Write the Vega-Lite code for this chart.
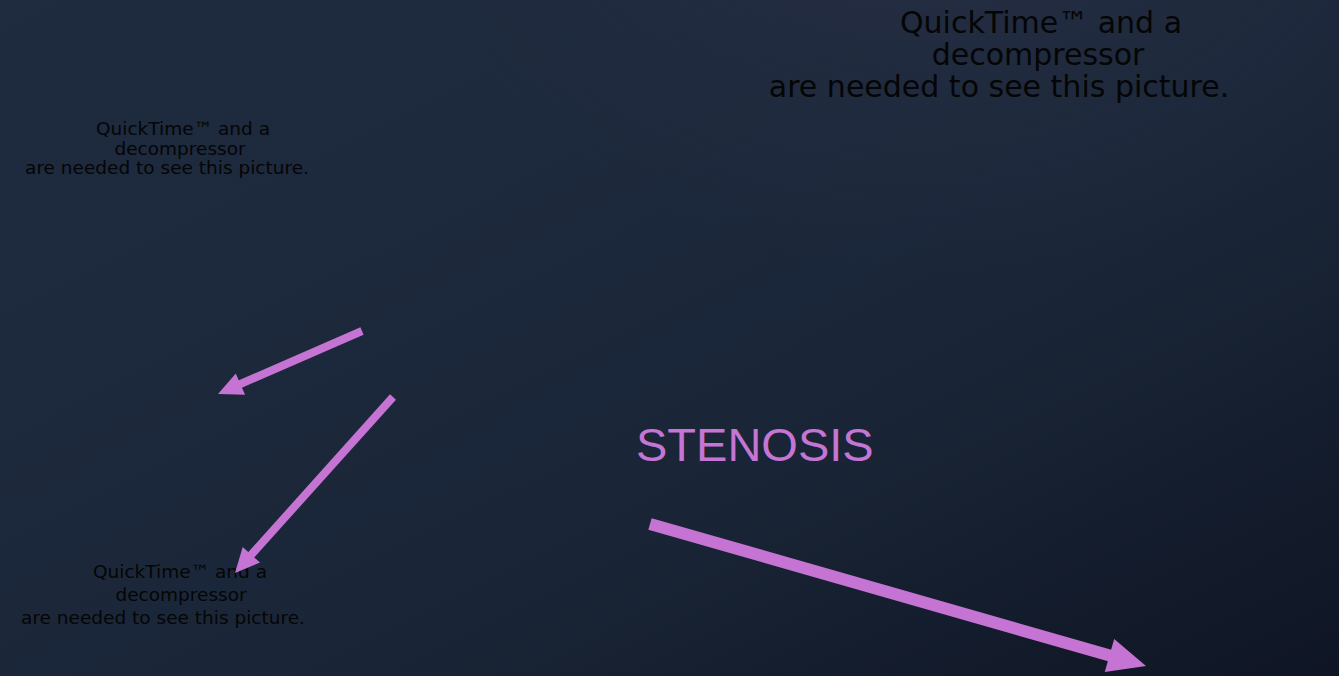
{
  "$schema": "https://vega.github.io/schema/vega-lite/v6.json",
  "width": 1339,
  "height": 676,
  "autosize": {"type": "fit", "contains": "padding"},
  "padding": 0,
  "background": "#1a2537",
  "config": {"view": {"stroke": null}},
  "datasets": {
    "frame": [{"x0": 0, "x1": 1339, "y0": 0, "y1": 676}],
    "labels": [
      {"block": "top-right", "text": "QuickTime™ and a", "x": 1041, "y": 33},
      {"block": "top-right", "text": "decompressor", "x": 1038, "y": 65},
      {"block": "top-right", "text": "are needed to see this picture.", "x": 999, "y": 97},
      {"block": "top-left", "text": "QuickTime™ and a", "x": 183, "y": 135},
      {"block": "top-left", "text": "decompressor", "x": 180, "y": 155},
      {"block": "top-left", "text": "are needed to see this picture.", "x": 167, "y": 174},
      {"block": "bottom-left", "text": "QuickTime™ and a", "x": 180, "y": 578},
      {"block": "bottom-left", "text": "decompressor", "x": 181, "y": 601},
      {"block": "bottom-left", "text": "are needed to see this picture.", "x": 163, "y": 624}
    ],
    "title": [{"text": "STENOSIS", "x": 636, "y": 461}],
    "arrows": [
      {"id": "A1", "kind": "small", "xs": 362, "ys": 331, "xe": 229, "ye": 389, "xt": 218, "yt": 394, "angle": 246.4},
      {"id": "A2", "kind": "small", "xs": 393, "ys": 397, "xe": 243, "ye": 564, "xt": 235, "yt": 573, "angle": 221.9},
      {"id": "A3", "kind": "large", "xs": 650, "ys": 524, "xe": 1129, "ye": 661, "xt": 1146, "yt": 666, "angle": 106.0}
    ]
  },
  "layer": [
    {
      "data": {"name": "frame"},
      "mark": {
        "type": "rect",
        "fill": {
          "gradient": "linear", "x1": 0, "y1": 0, "x2": 1, "y2": 1,
          "stops": [
            {"offset": 0, "color": "#1f2b3f"},
            {"offset": 0.6, "color": "#1a2638"},
            {"offset": 1, "color": "#0f1524"}
          ]
        }
      },
      "encoding": {
        "x": {"field": "x0", "type": "quantitative", "scale": {"domain": [0, 1339], "nice": false, "zero": false}, "axis": null},
        "x2": {"field": "x1"},
        "y": {"field": "y0", "type": "quantitative", "scale": {"domain": [0, 676], "nice": false, "zero": false, "reverse": true}, "axis": null},
        "y2": {"field": "y1"}
      }
    },
    {
      "data": {"name": "frame"},
      "mark": {
        "type": "rect",
        "fill": {
          "gradient": "radial", "x1": 0.7, "y1": 0, "r1": 0, "x2": 0.7, "y2": 0, "r2": 0.45,
          "stops": [
            {"offset": 0, "color": "rgba(48,52,76,0.75)"},
            {"offset": 1, "color": "rgba(48,52,76,0)"}
          ]
        }
      },
      "encoding": {
        "x": {"field": "x0", "type": "quantitative", "axis": null},
        "x2": {"field": "x1"},
        "y": {"field": "y0", "type": "quantitative", "axis": null},
        "y2": {"field": "y1"}
      }
    },
    {
      "data": {"name": "labels"},
      "transform": [{"filter": "datum.block === 'top-right'"}],
      "mark": {"type": "text", "font": "DejaVu Sans", "fontSize": 30, "color": "#050505", "align": "center", "baseline": "alphabetic"},
      "encoding": {
        "x": {"field": "x", "type": "quantitative", "axis": null},
        "y": {"field": "y", "type": "quantitative", "axis": null},
        "text": {"field": "text"}
      }
    },
    {
      "data": {"name": "labels"},
      "transform": [{"filter": "datum.block !== 'top-right'"}],
      "mark": {"type": "text", "font": "DejaVu Sans", "fontSize": 18.5, "color": "#050505", "align": "center", "baseline": "alphabetic"},
      "encoding": {
        "x": {"field": "x", "type": "quantitative", "axis": null},
        "y": {"field": "y", "type": "quantitative", "axis": null},
        "text": {"field": "text"}
      }
    },
    {
      "data": {"name": "title"},
      "mark": {"type": "text", "font": "Liberation Sans", "fontSize": 47, "color": "#c575d3", "align": "left", "baseline": "alphabetic"},
      "encoding": {
        "x": {"field": "x", "type": "quantitative", "axis": null},
        "y": {"field": "y", "type": "quantitative", "axis": null},
        "text": {"field": "text"}
      }
    },
    {
      "data": {"name": "arrows"},
      "transform": [{"filter": "datum.kind === 'small'"}],
      "mark": {"type": "rule", "color": "#c674d4", "strokeWidth": 8, "strokeCap": "butt"},
      "encoding": {
        "x": {"field": "xs", "type": "quantitative", "axis": null},
        "y": {"field": "ys", "type": "quantitative", "axis": null},
        "x2": {"field": "xe"},
        "y2": {"field": "ye"}
      }
    },
    {
      "data": {"name": "arrows"},
      "transform": [{"filter": "datum.kind === 'large'"}],
      "mark": {"type": "rule", "color": "#c674d4", "strokeWidth": 12, "strokeCap": "butt"},
      "encoding": {
        "x": {"field": "xs", "type": "quantitative", "axis": null},
        "y": {"field": "ys", "type": "quantitative", "axis": null},
        "x2": {"field": "xe"},
        "y2": {"field": "ye"}
      }
    },
    {
      "data": {"name": "arrows"},
      "transform": [{"filter": "datum.kind === 'small'"}],
      "mark": {"type": "point", "shape": "M0,0L-0.95,2L0.95,2Z", "filled": true, "color": "#c674d4", "opacity": 1, "size": 600, "strokeWidth": 0},
      "encoding": {
        "x": {"field": "xt", "type": "quantitative", "axis": null},
        "y": {"field": "yt", "type": "quantitative", "axis": null},
        "angle": {"field": "angle", "type": "quantitative", "scale": null}
      }
    },
    {
      "data": {"name": "arrows"},
      "transform": [{"filter": "datum.kind === 'large'"}],
      "mark": {"type": "point", "shape": "M0,0L-0.9,2L0.9,2Z", "filled": true, "color": "#c674d4", "opacity": 1, "size": 1444, "strokeWidth": 0},
      "encoding": {
        "x": {"field": "xt", "type": "quantitative", "axis": null},
        "y": {"field": "yt", "type": "quantitative", "axis": null},
        "angle": {"field": "angle", "type": "quantitative", "scale": null}
      }
    }
  ]
}
